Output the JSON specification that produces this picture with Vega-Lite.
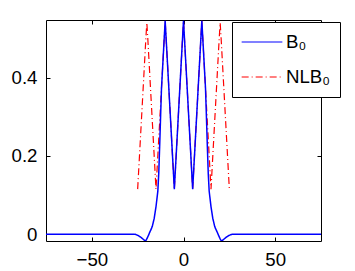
{
  "$schema": "https://vega.github.io/schema/vega-lite/v6.json",
  "width": 275,
  "height": 221,
  "autosize": {"type": "none"},
  "padding": {"left": 46, "top": 20, "right": 34, "bottom": 30},
  "background": "white",
  "config": {
    "font": "Liberation Sans",
    "view": {"stroke": "black", "strokeWidth": 1},
    "axis": {
      "domain": false,
      "grid": false,
      "tickColor": "black",
      "tickSize": -4,
      "tickWidth": 1,
      "labelFont": "Liberation Sans",
      "labelFontSize": 18.67,
      "labelColor": "black",
      "title": null
    }
  },
  "datasets": {
    "b0": [
      {"x": -75, "y": 0}, {"x": -27, "y": 0}, {"x": -26.5, "y": -0.0005}, {"x": -26, "y": -0.001},
      {"x": -25.5, "y": -0.002}, {"x": -25, "y": -0.003}, {"x": -24.5, "y": -0.004}, {"x": -24, "y": -0.006},
      {"x": -23.5, "y": -0.007}, {"x": -23, "y": -0.009}, {"x": -22.5, "y": -0.011}, {"x": -22, "y": -0.013},
      {"x": -21.5, "y": -0.015}, {"x": -21, "y": -0.0175}, {"x": -20.5, "y": -0.016}, {"x": -20, "y": -0.012},
      {"x": -19.5, "y": -0.007}, {"x": -19, "y": -0.002}, {"x": -18.5, "y": 0.004}, {"x": -18, "y": 0.009},
      {"x": -17.5, "y": 0.014}, {"x": -17, "y": 0.02}, {"x": -16.5, "y": 0.03}, {"x": -16, "y": 0.04},
      {"x": -15.5, "y": 0.055}, {"x": -15, "y": 0.07}, {"x": -14.5, "y": 0.09}, {"x": -14, "y": 0.11},
      {"x": -13.5, "y": 0.155}, {"x": -13, "y": 0.225}, {"x": -12.5, "y": 0.3}, {"x": -12, "y": 0.373},
      {"x": -11.5, "y": 0.416}, {"x": -11, "y": 0.459}, {"x": -10.5, "y": 0.502}, {"x": -10, "y": 0.545},
      {"x": -9.5, "y": 0.502}, {"x": -9, "y": 0.459}, {"x": -8.5, "y": 0.416}, {"x": -8, "y": 0.373},
      {"x": -7.5, "y": 0.33}, {"x": -7, "y": 0.287}, {"x": -6.5, "y": 0.244}, {"x": -6, "y": 0.201},
      {"x": -5.5, "y": 0.158}, {"x": -5, "y": 0.115}, {"x": -4.5, "y": 0.158}, {"x": -4, "y": 0.201},
      {"x": -3.5, "y": 0.244}, {"x": -3, "y": 0.287}, {"x": -2.5, "y": 0.33}, {"x": -2, "y": 0.373},
      {"x": -1.5, "y": 0.416}, {"x": -1, "y": 0.459}, {"x": -0.5, "y": 0.502}, {"x": 0, "y": 0.545},
      {"x": 0.5, "y": 0.502}, {"x": 1, "y": 0.459}, {"x": 1.5, "y": 0.416}, {"x": 2, "y": 0.373},
      {"x": 2.5, "y": 0.33}, {"x": 3, "y": 0.287}, {"x": 3.5, "y": 0.244}, {"x": 4, "y": 0.201},
      {"x": 4.5, "y": 0.158}, {"x": 5, "y": 0.115}, {"x": 5.5, "y": 0.158}, {"x": 6, "y": 0.201},
      {"x": 6.5, "y": 0.244}, {"x": 7, "y": 0.287}, {"x": 7.5, "y": 0.33}, {"x": 8, "y": 0.373},
      {"x": 8.5, "y": 0.416}, {"x": 9, "y": 0.459}, {"x": 9.5, "y": 0.502}, {"x": 10, "y": 0.545},
      {"x": 10.5, "y": 0.502}, {"x": 11, "y": 0.459}, {"x": 11.5, "y": 0.416}, {"x": 12, "y": 0.373},
      {"x": 12.5, "y": 0.3}, {"x": 13, "y": 0.225}, {"x": 13.5, "y": 0.155}, {"x": 14, "y": 0.11},
      {"x": 14.5, "y": 0.09}, {"x": 15, "y": 0.07}, {"x": 15.5, "y": 0.055}, {"x": 16, "y": 0.04},
      {"x": 16.5, "y": 0.03}, {"x": 17, "y": 0.02}, {"x": 17.5, "y": 0.014}, {"x": 18, "y": 0.009},
      {"x": 18.5, "y": 0.004}, {"x": 19, "y": -0.002}, {"x": 19.5, "y": -0.007}, {"x": 20, "y": -0.012},
      {"x": 20.5, "y": -0.016}, {"x": 21, "y": -0.0175}, {"x": 21.5, "y": -0.015}, {"x": 22, "y": -0.013},
      {"x": 22.5, "y": -0.011}, {"x": 23, "y": -0.009}, {"x": 23.5, "y": -0.007}, {"x": 24, "y": -0.006},
      {"x": 24.5, "y": -0.004}, {"x": 25, "y": -0.003}, {"x": 25.5, "y": -0.002}, {"x": 26, "y": -0.001},
      {"x": 26.5, "y": -0.0005}, {"x": 27, "y": 0}, {"x": 75, "y": 0}
    ],
    "nlb": [
      {"x": -25, "y": 0.115}, {"x": -24.5, "y": 0.158}, {"x": -24, "y": 0.201}, {"x": -23.5, "y": 0.244},
      {"x": -23, "y": 0.287}, {"x": -22.5, "y": 0.33}, {"x": -22, "y": 0.373}, {"x": -21.5, "y": 0.416},
      {"x": -21, "y": 0.459}, {"x": -20.5, "y": 0.502}, {"x": -20, "y": 0.54}, {"x": -19.5, "y": 0.502},
      {"x": -19, "y": 0.459}, {"x": -18.5, "y": 0.416}, {"x": -18, "y": 0.373}, {"x": -17.5, "y": 0.33},
      {"x": -17, "y": 0.287}, {"x": -16.5, "y": 0.244}, {"x": -16, "y": 0.201}, {"x": -15.5, "y": 0.158},
      {"x": -15, "y": 0.115}, {"x": -14.5, "y": 0.158}, {"x": -14, "y": 0.201}, {"x": -13.5, "y": 0.244},
      {"x": -13, "y": 0.287}, {"x": -12.5, "y": 0.33}, {"x": -12, "y": 0.373}, {"x": -11.5, "y": 0.416},
      {"x": -11, "y": 0.459}, {"x": -10.5, "y": 0.502}, {"x": -10, "y": 0.545}, {"x": -9.5, "y": 0.502},
      {"x": -9, "y": 0.459}, {"x": -8.5, "y": 0.416}, {"x": -8, "y": 0.373}, {"x": -7.5, "y": 0.33},
      {"x": -7, "y": 0.287}, {"x": -6.5, "y": 0.244}, {"x": -6, "y": 0.201}, {"x": -5.5, "y": 0.158},
      {"x": -5, "y": 0.115}, {"x": -4.5, "y": 0.158}, {"x": -4, "y": 0.201}, {"x": -3.5, "y": 0.244},
      {"x": -3, "y": 0.287}, {"x": -2.5, "y": 0.33}, {"x": -2, "y": 0.373}, {"x": -1.5, "y": 0.416},
      {"x": -1, "y": 0.459}, {"x": -0.5, "y": 0.502}, {"x": 0, "y": 0.545}, {"x": 0.5, "y": 0.502},
      {"x": 1, "y": 0.459}, {"x": 1.5, "y": 0.416}, {"x": 2, "y": 0.373}, {"x": 2.5, "y": 0.33},
      {"x": 3, "y": 0.287}, {"x": 3.5, "y": 0.244}, {"x": 4, "y": 0.201}, {"x": 4.5, "y": 0.158},
      {"x": 5, "y": 0.115}, {"x": 5.5, "y": 0.158}, {"x": 6, "y": 0.201}, {"x": 6.5, "y": 0.244},
      {"x": 7, "y": 0.287}, {"x": 7.5, "y": 0.33}, {"x": 8, "y": 0.373}, {"x": 8.5, "y": 0.416},
      {"x": 9, "y": 0.459}, {"x": 9.5, "y": 0.502}, {"x": 10, "y": 0.545}, {"x": 10.5, "y": 0.502},
      {"x": 11, "y": 0.459}, {"x": 11.5, "y": 0.416}, {"x": 12, "y": 0.373}, {"x": 12.5, "y": 0.33},
      {"x": 13, "y": 0.287}, {"x": 13.5, "y": 0.244}, {"x": 14, "y": 0.201}, {"x": 14.5, "y": 0.158},
      {"x": 15, "y": 0.115}, {"x": 15.5, "y": 0.158}, {"x": 16, "y": 0.201}, {"x": 16.5, "y": 0.244},
      {"x": 17, "y": 0.287}, {"x": 17.5, "y": 0.33}, {"x": 18, "y": 0.373}, {"x": 18.5, "y": 0.416},
      {"x": 19, "y": 0.459}, {"x": 19.5, "y": 0.502}, {"x": 20, "y": 0.54}, {"x": 20.5, "y": 0.502},
      {"x": 21, "y": 0.459}, {"x": 21.5, "y": 0.416}, {"x": 22, "y": 0.373}, {"x": 22.5, "y": 0.33},
      {"x": 23, "y": 0.287}, {"x": 23.5, "y": 0.244}, {"x": 24, "y": 0.201}, {"x": 24.5, "y": 0.158},
      {"x": 25, "y": 0.115}
    ]
  },
  "layer": [
    {
      "data": {"name": "nlb"},
      "mark": {"type": "line", "strokeWidth": 1.2, "clip": true},
      "encoding": {
        "x": {"field": "x", "type": "quantitative",
              "scale": {"domain": [-75, 75], "nice": false, "zero": false},
              "axis": {"orient": "bottom", "values": [-50, 0, 50], "labelPadding": 13}},
        "y": {"field": "y", "type": "quantitative",
              "scale": {"domain": [-0.0175, 0.547], "nice": false, "zero": false},
              "axis": {"orient": "left", "values": [0, 0.2, 0.4], "format": ".1~f", "labelPadding": 13}},
        "color": {"datum": "NLB₀",
                  "scale": {"domain": ["B₀", "NLB₀"], "range": ["#0000ff", "#ff0000"]},
                  "legend": {"title": null, "orient": "none", "legendX": 186, "legendY": 2,
                             "strokeColor": "black", "fillColor": "white", "padding": 9, "cornerRadius": 0,
                             "symbolType": "stroke", "symbolSize": 1656, "symbolStrokeWidth": 1.2,
                             "clipHeight": 22,
                             "labelFont": "Liberation Sans", "labelFontSize": 18.67, "labelColor": "black",
                             "labelOffset": 3, "rowPadding": 13}},
        "strokeDash": {"datum": "NLB₀",
                       "scale": {"domain": ["B₀", "NLB₀"], "range": [[1, 0], [7, 3, 1, 3]]},
                       "legend": {"title": null, "orient": "none", "legendX": 186, "legendY": 2,
                             "strokeColor": "black", "fillColor": "white", "padding": 9, "cornerRadius": 0,
                             "symbolType": "stroke", "symbolSize": 1656, "symbolStrokeWidth": 1.2,
                             "clipHeight": 22,
                             "labelFont": "Liberation Sans", "labelFontSize": 18.67, "labelColor": "black",
                             "labelOffset": 3, "rowPadding": 13}}
      }
    },
    {
      "data": {"name": "b0"},
      "mark": {"type": "line", "strokeWidth": 1.5, "clip": true},
      "encoding": {
        "x": {"field": "x", "type": "quantitative",
              "scale": {"domain": [-75, 75], "nice": false, "zero": false},
              "axis": {"orient": "top", "values": [-50, 0, 50], "labels": false}},
        "y": {"field": "y", "type": "quantitative",
              "scale": {"domain": [-0.0175, 0.547], "nice": false, "zero": false},
              "axis": {"orient": "right", "values": [0, 0.2, 0.4], "labels": false}},
        "color": {"datum": "B₀"},
        "strokeDash": {"datum": "B₀"}
      }
    }
  ],
  "resolve": {"axis": {"x": "independent", "y": "independent"}}
}
